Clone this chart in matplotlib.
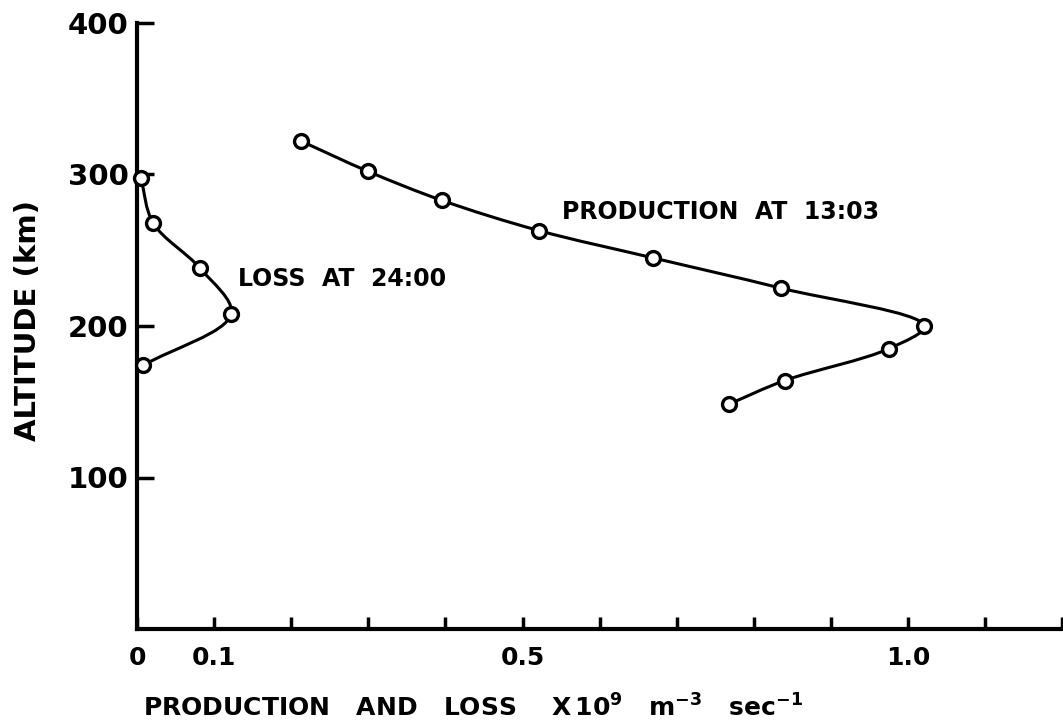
import numpy as np
import matplotlib
matplotlib.use('Agg')
import matplotlib.pyplot as plt
from matplotlib.path import Path
from matplotlib.patches import PathPatch

plt.rcParams.update({'font.family': 'DejaVu Sans'})
plt.rcParams.update({'font.weight': 'bold'})
plt.rcParams.update({'mathtext.fontset': 'dejavusans'})
plt.rcParams.update({'mathtext.default': 'bf'})

# data (x in 10^9 m^-3 s^-1, altitude in km)
loss_x = [0.005, 0.021, 0.082, 0.122, 0.008]
loss_alt = [298, 268, 238, 208, 174]

prod_x = [0.213, 0.300, 0.395, 0.521, 0.669, 0.835, 1.021, 0.975, 0.840, 0.768]
prod_alt = [322, 302, 283, 263, 245, 225, 200, 185, 164, 148.5]

xticks = [0.0, 0.1, 0.2, 0.3, 0.4, 0.5, 0.6, 0.7, 0.8, 0.9, 1.0, 1.1, 1.2]
xticklabels = ['0', '0.1', '', '', '', '0.5', '', '', '', '', '1.0', '', '']
yticks = [100, 200, 300, 400]
yticklabels = ['100', '200', '300', '400']

# pixel scale of the data units, used only to shape the smooth curves
SX, SY = 771.5, 1.515


def smooth_path(xs, ys):
    # centripetal catmull-rom through the points, as cubic bezier segments
    P = np.column_stack([np.asarray(xs) * SX, np.asarray(ys) * SY])
    P = np.vstack([2 * P[0] - P[1], P, 2 * P[-1] - P[-2]])
    d = np.sqrt(np.linalg.norm(np.diff(P, axis=0), axis=1))
    t = np.concatenate([[0], np.cumsum(d)])
    verts, codes = [P[1]], [Path.MOVETO]

    def tang(i):
        return ((P[i] - P[i-1]) / (t[i] - t[i-1]) - (P[i+1] - P[i-1]) / (t[i+1] - t[i-1])
                + (P[i+1] - P[i]) / (t[i+1] - t[i]))

    for i in range(1, len(P) - 2):
        h = t[i+1] - t[i]
        c1 = P[i] + tang(i) * h / 3
        c2 = P[i+1] - tang(i+1) * h / 3
        verts += [c1, c2, P[i+1]]
        codes += [Path.CURVE4] * 3
    verts = np.array(verts) / [SX, SY]
    return Path(verts, codes)


fig = plt.figure(figsize=(10.63, 7.27), dpi=100)
ax = fig.add_axes([137/1063, 1 - 629/727, (1063 - 137)/1063, (629 - 23)/727])

for xs, ys in [(loss_x, loss_alt), (prod_x, prod_alt)]:
    ax.add_patch(PathPatch(smooth_path(xs, ys), fill=False, lw=2.2, ec='black', clip_on=False))
    ax.plot(xs, ys, 'o', ms=10, mfc='white', mec='black', mew=2.4, clip_on=False, zorder=3)

ax.text(0.131, 231, 'LOSS  AT  24:00', fontsize=17, va='center', ha='left')
ax.text(0.551, 275, 'PRODUCTION  AT  13:03', fontsize=17, va='center', ha='left')

ax.set_xlim(0, 1.201)
ax.set_ylim(0, 400)
ax.set_xticks(xticks)
ax.set_xticklabels(xticklabels)
ax.set_yticks(yticks)
ax.set_yticklabels(yticklabels)
ax.tick_params(axis='x', direction='in', length=9, width=2.5, labelsize=18, pad=12)
ax.tick_params(axis='y', direction='in', length=12, width=2.5, labelsize=21, pad=6)
for s in ['top', 'right']:
    ax.spines[s].set_visible(False)
for s in ['left', 'bottom']:
    ax.spines[s].set_linewidth(3)

fig.text(143/1063, 1 - 708/727, 'PRODUCTION   AND   LOSS    X$\\,$10$^{9}$   m$^{-3}$   sec$^{-1}$',
         fontsize=18, va='center', ha='left')
fig.text(28/1063, 1 - 321/727, 'ALTITUDE (km)', fontsize=21, rotation=90, va='center', ha='center')

plt.savefig('out.png', dpi=100)
